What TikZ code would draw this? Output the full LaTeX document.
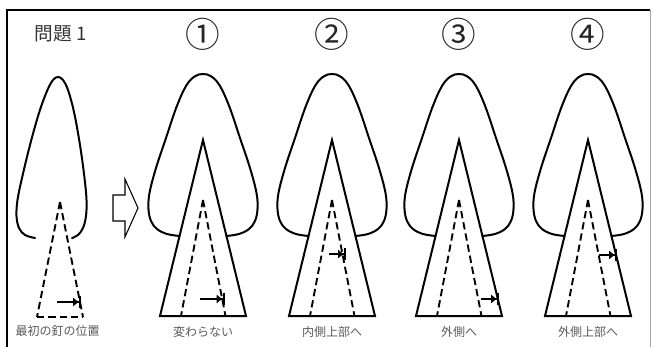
\documentclass[tikz,border=0pt]{standalone}
\usepackage{fontspec}
\newfontfamily\cjk{Noto Sans CJK JP}
\usetikzlibrary{arrows.meta}

\tikzset{
  leafline/.style={line width=1.5pt, line join=round, line cap=round},
  wedge/.style={line width=1.5pt, line join=miter},
  nailline/.style={line width=1.4pt, dash pattern=on 5.5pt off 3pt},
  nailmark/.style={line width=1.4pt, -{Latex[length=4.5pt,width=7pt]Bar[width=9pt]}},
  caption/.style={font=\cjk\fontsize{9}{10}\selectfont, text=black!65, inner sep=0pt},
  number/.style={font=\cjk\fontsize{26}{28}\selectfont, text=black!85, inner sep=0pt},
}

\begin{document}
\begin{tikzpicture}[x=0.75pt, y=-0.75pt]

\useasboundingbox (0,0) rectangle (651,347);

\def \apexy {140}
\def \basey {316}
\def \halfbase {43}
\def \nailtop {200}

% frame
\draw[line width=1.5pt] (7,347) -- (7,10) -- (650,10);
\draw[black!35, line width=0.75pt] (650,10) -- (650,347);

\node (title) [font=\cjk\fontsize{14}{16}\selectfont, text=black!80, anchor=west] at (30,34) {問題 1};

% first position
\draw[leafline] plot[smooth, tension=0.6] coordinates {(35,238) (25,235) (19,228) (16.5,216) (17.5,200) (22,178) (30,145) (39,113) (47,91) (53,80) (58,77) (63,80) (68,90) (74,112) (80,145) (84.5,178) (86.5,200) (86,216) (83,228) (78,235) (72,238)};

\coordinate (top0) at (60,202);
\coordinate (nl0) at (37,317);
\coordinate (nr0) at (83,317);
\draw[nailline] (top0) -- (nl0);
\draw[nailline] (top0) -- (nr0);
\draw[nailline] (nl0) -- (nr0);
\coordinate (ms0) at (57,302);
\coordinate (me0) at (81,302);
\draw[nailmark] (ms0) -- (me0);
\node (cap0) [caption] at (57.5,331) {最初の釘の位置};

% block arrow
\draw[line width=0.8pt, line join=miter] (113,195) -- (125,195) -- (125,179) -- (138,208) -- (125,237) -- (125,221) -- (113,221) -- cycle;

\foreach \i/\cx/\numtxt/\ay/\ax/\bx/\captxt in {1/203/①/299/200/224.5/変わらない, 2/332/②/254/329/346/内側上部へ, 3/459/③/299/481/499/外側へ, 4/588/④/255/599/617/外側上部へ}
{
  \begin{scope}[shift={(\cx,0)}]
    \draw[leafline] plot[smooth, tension=0.6] coordinates {(-23.5,236) (-36,234) (-46,229) (-52,221) (-54.5,209) (-53.5,193) (-47,168) (-37,138) (-26.5,107) (-17,86) (-8.5,76.5) (0,74) (8.5,76.5) (17,86) (26.5,107) (37,138) (47,168) (53.5,193) (54.5,209) (52,221) (46,229) (36,234) (23.5,236)};
    \coordinate (apex\i) at (0,\apexy);
    \coordinate (bl\i) at (-\halfbase,\basey);
    \coordinate (br\i) at (\halfbase,\basey);
    \draw[wedge] (bl\i) -- (apex\i) -- (br\i) -- cycle;
    \coordinate (top\i) at (0,\nailtop);
    \coordinate (nl\i) at (-22,\basey);
    \coordinate (nr\i) at (22.5,\basey);
    \draw[nailline] (top\i) -- (nl\i);
    \draw[nailline] (top\i) -- (nr\i);
  \end{scope}
  \coordinate (ms\i) at (\ax,\ay);
  \coordinate (me\i) at (\bx,\ay);
  \draw[nailmark] (ms\i) -- (me\i);
  \node (num\i) [number] at (\cx,34) {\numtxt};
  \node (cap\i) [caption] at (\cx,332) {\captxt};
}

\end{tikzpicture}
\end{document}
